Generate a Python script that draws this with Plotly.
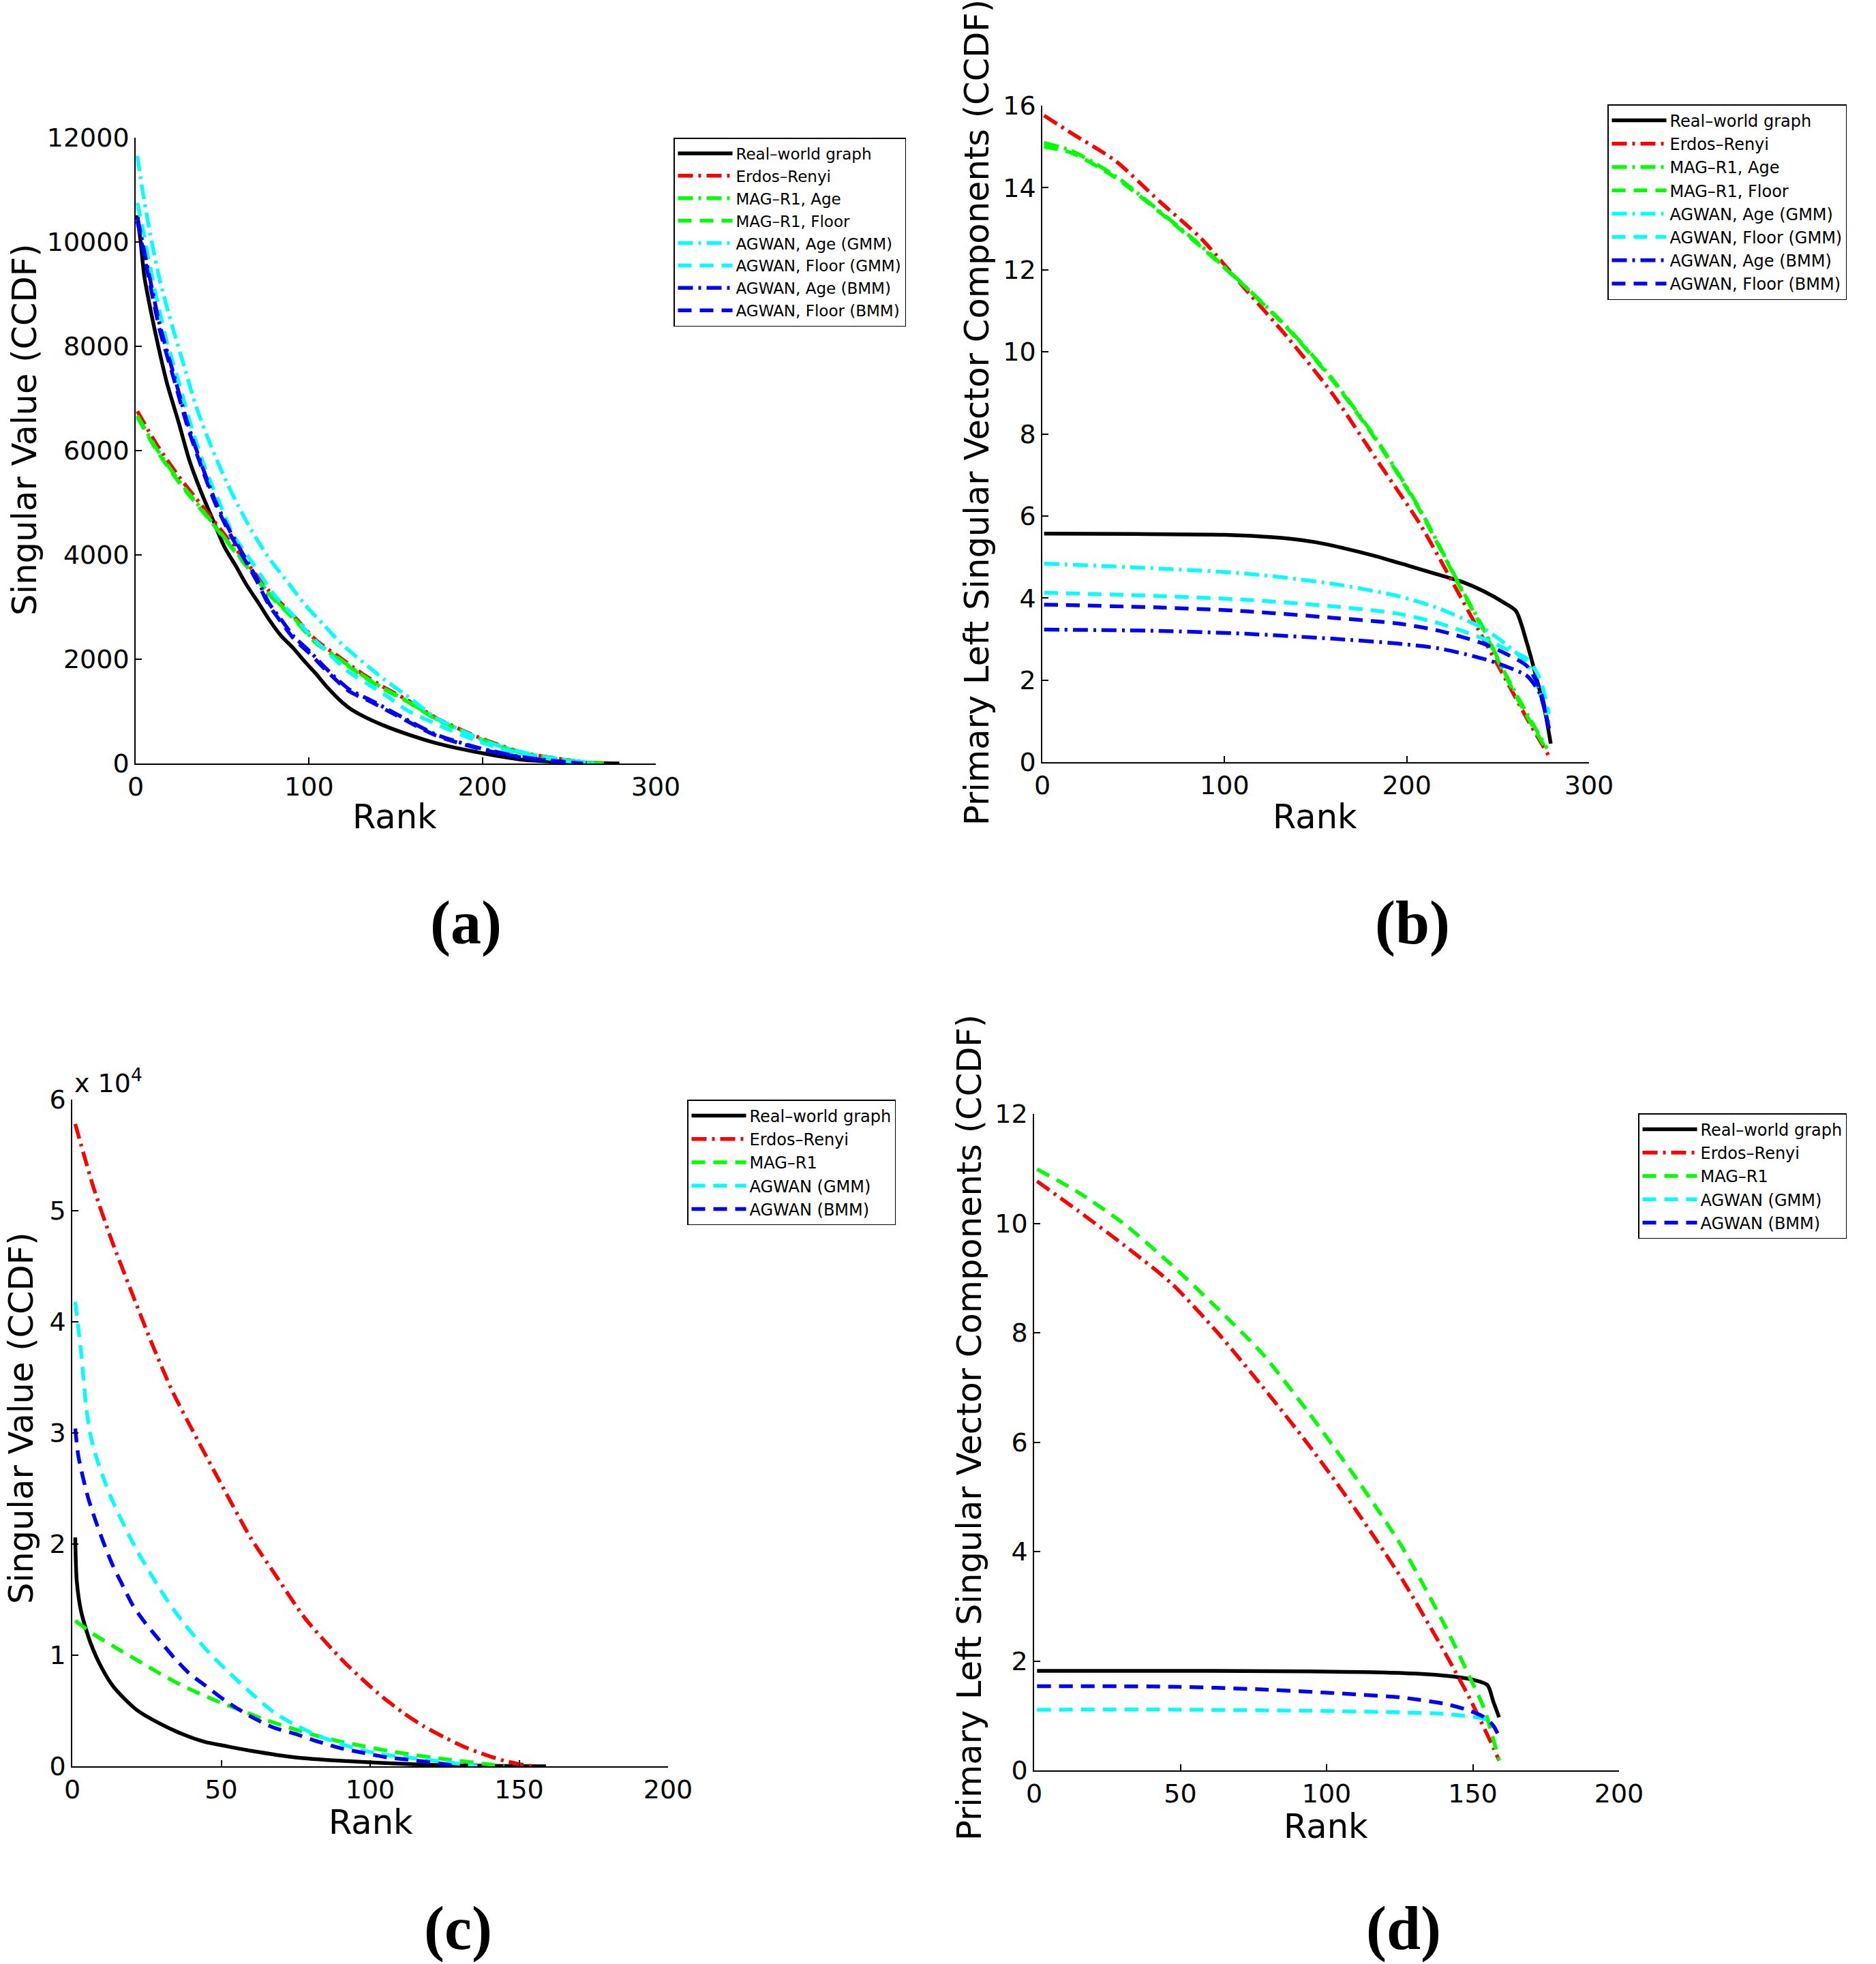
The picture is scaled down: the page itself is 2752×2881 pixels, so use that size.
import plotly.graph_objects as go

W, H = 2752, 2881

# ---------------- Panel (a): singular values, ranks 1..280 ----------------
a_real_x = [1, 3, 5, 9, 13, 18, 25, 31, 38, 45, 51, 58, 64, 71, 77, 84, 91, 97, 104, 110, 117, 123, 130, 143, 156, 173, 198, 223, 248, 265, 279]
a_real_y = [10513, 9965, 9338, 8633, 8006, 7301, 6518, 5813, 5186, 4638, 4168, 3776, 3423, 3071, 2758, 2444, 2209, 1974, 1720, 1480, 1240, 1070, 930, 730, 570, 394, 211, 73, 28, 10, 0]
a_er_x = [1, 12, 25, 38, 51, 64, 77, 91, 104, 117, 130, 143, 156, 173, 185, 198, 223, 248, 260, 270]
a_er_y = [6753, 6126, 5500, 4951, 4403, 3854, 3306, 2836, 2366, 2052, 1739, 1465, 1230, 880, 690, 500, 211, 73, 20, 0]
a_magage_y = [6670, 6040, 5420, 4880, 4340, 3800, 3260, 2800, 2330, 2020, 1710, 1440, 1210, 865, 675, 485, 200, 70, 18, 0]
a_magfloor_y = [6640, 6010, 5390, 4860, 4320, 3780, 3240, 2780, 2310, 2000, 1695, 1430, 1200, 855, 668, 478, 198, 68, 16, 0]
a_gmmage_x = [1, 4, 9, 14, 21, 28, 35, 43, 51, 59, 68, 77, 88, 98, 109, 119, 130, 143, 156, 173, 185, 198, 210, 235, 255, 265]
a_gmmage_y = [11649, 10983, 10043, 9260, 8398, 7615, 6831, 6126, 5500, 4951, 4403, 3933, 3463, 3032, 2640, 2288, 1974, 1622, 1308, 880, 680, 470, 330, 130, 40, 0]
a_gmmfloor_x = [1, 4, 8, 13, 18, 25, 33, 41, 49, 56, 64, 72, 80, 91, 101, 112, 122, 133, 146, 156, 173, 198, 223, 248, 262]
a_gmmfloor_y = [10748, 10278, 9573, 8790, 8085, 7301, 6361, 5578, 4951, 4403, 4011, 3619, 3228, 2836, 2444, 2092, 1778, 1543, 1269, 1034, 760, 420, 180, 50, 0]
a_bmm_x = [1, 7, 14, 22, 30, 38, 46, 54, 62, 70, 77, 84, 91, 101, 110, 123, 137, 150, 173, 198, 223, 245, 258]
a_bmmage_y = [10474, 9495, 8398, 7458, 6518, 5734, 5029, 4481, 4011, 3541, 3071, 2758, 2444, 2131, 1817, 1426, 1191, 956, 560, 300, 125, 40, 0]
a_bmmfloor_y = [10400, 9400, 8300, 7380, 6450, 5680, 4980, 4430, 3960, 3490, 3030, 2710, 2400, 2090, 1780, 1390, 1160, 930, 540, 285, 115, 35, 0]

# ---------------- Panel (b): primary left singular vector ----------------
b_real_x = [1, 50, 100, 120, 135, 150, 165, 183, 200, 215, 230, 242, 254, 260, 266, 272, 276, 279]
b_real_y = [5.57, 5.56, 5.54, 5.50, 5.45, 5.36, 5.22, 5.02, 4.80, 4.60, 4.40, 4.17, 3.87, 3.68, 2.89, 1.91, 1.2, 0.45]
b_er_x = [1, 16, 40, 64, 87, 111, 135, 159, 183, 207, 230, 242, 254, 266, 278]
b_er_y = [15.76, 15.33, 14.66, 13.68, 12.77, 11.55, 10.33, 8.99, 7.40, 5.82, 3.99, 3.01, 2.04, 1.06, 0.15]
b_mag_x = [1, 16, 40, 64, 87, 111, 135, 159, 183, 207, 230, 242, 254, 266, 277]
b_magage_y = [15.09, 14.9, 14.29, 13.44, 12.59, 11.61, 10.57, 9.35, 7.89, 6.18, 4.23, 3.26, 2.16, 1.18, 0.33]
b_magfloor_y = [15.0, 14.85, 14.25, 13.42, 12.56, 11.6, 10.55, 9.32, 7.86, 6.15, 4.2, 3.22, 2.12, 1.12, 0.28]
b_ag_x = [1, 64, 111, 159, 195, 218, 242, 254, 266, 273, 278]
b_gmmage_y = [4.84, 4.72, 4.6, 4.35, 4.05, 3.74, 3.26, 2.89, 2.40, 1.67, 0.94]
b_gmmfloor_y = [4.13, 4.05, 3.96, 3.80, 3.62, 3.38, 3.01, 2.77, 2.52, 2.04, 1.18]
b_bmmage_y = [3.23, 3.2, 3.13, 3.01, 2.89, 2.77, 2.52, 2.34, 2.10, 1.67, 0.82]
b_bmmfloor_y = [3.84, 3.77, 3.68, 3.52, 3.38, 3.2, 2.89, 2.65, 2.34, 1.79, 0.82]

# ---------------- Panel (c): singular values (x 10^4), ranks 1..159 ----------------
c_real_x = [1, 1.5, 3, 6, 10, 14, 21.5, 29, 37, 44.5, 52, 60, 75, 90, 113, 125, 145, 159]
c_real_y = [2.06, 1.67, 1.39, 1.12, 0.88, 0.71, 0.51, 0.39, 0.29, 0.22, 0.18, 0.14, 0.08, 0.05, 0.02, 0.01, 0.003, 0]
c_er_x = [1, 7, 13, 19.6, 26.5, 33.7, 42.2, 51, 59.8, 67.5, 78.2, 90.5, 97.5, 104.3, 111.2, 118, 125, 132, 139, 145, 151, 155]
c_er_y = [5.78, 5.22, 4.75, 4.29, 3.82, 3.37, 2.93, 2.49, 2.06, 1.75, 1.33, 0.96, 0.78, 0.62, 0.48, 0.36, 0.26, 0.17, 0.10, 0.05, 0.015, 0]
c_mag_x = [1, 7.7, 13.8, 21.5, 29.1, 34.5, 41.4, 48.3, 56, 63.6, 75, 82.8, 90.5, 98, 105.8, 112.7, 125, 139, 145]
c_mag_y = [1.31, 1.18, 1.08, 0.96, 0.84, 0.76, 0.67, 0.59, 0.51, 0.43, 0.33, 0.27, 0.22, 0.18, 0.14, 0.11, 0.065, 0.02, 0]
c_gmm_x = [1, 2, 3, 4.6, 6.1, 8.1, 10.4, 13, 16.1, 19.2, 22.2, 25.7, 29.1, 33, 36.8, 41.4, 46, 52, 60, 67.5, 75, 83, 90.5, 98, 106, 112, 125, 136]
c_gmm_y = [4.18, 3.95, 3.72, 3.25, 2.98, 2.78, 2.6, 2.42, 2.24, 2.07, 1.92, 1.76, 1.61, 1.45, 1.31, 1.16, 1.02, 0.86, 0.66, 0.49, 0.37, 0.27, 0.20, 0.14, 0.10, 0.08, 0.04, 0]
c_bmm_x = [1, 2, 3.5, 5.4, 7.7, 10.4, 13.4, 16.5, 20.3, 24.5, 29.1, 34.1, 39.1, 44.5, 51.4, 59.8, 67.5, 75, 82.8, 90.5, 98, 105.8, 112.7, 125, 129]
c_bmm_y = [3.04, 2.80, 2.61, 2.41, 2.22, 2.02, 1.82, 1.65, 1.45, 1.29, 1.14, 0.98, 0.84, 0.73, 0.59, 0.45, 0.35, 0.29, 0.22, 0.16, 0.12, 0.08, 0.06, 0.02, 0]

# ---------------- Panel (d): primary left singular vector ----------------
d_real_x = [1, 50, 94, 126, 141, 149, 155, 157, 159]
d_real_y = [1.82, 1.82, 1.81, 1.78, 1.73, 1.67, 1.56, 1.26, 0.97]
d_er_x = [1, 15, 31, 47, 62.6, 78, 94, 110, 126, 141, 149, 157, 159]
d_er_y = [10.77, 10.23, 9.59, 8.90, 8.01, 7.02, 5.94, 4.76, 3.48, 2.10, 1.31, 0.42, 0.18]
d_mag_x = [1, 15, 31, 47, 62.6, 78, 94, 110, 126, 141, 149, 154, 159]
d_mag_y = [10.99, 10.57, 9.98, 9.24, 8.45, 7.62, 6.53, 5.35, 4.07, 2.59, 1.70, 1.11, 0.18]
d_gmm_x = [1, 50, 94, 126, 141, 154, 157]
d_gmm_y = [1.11, 1.11, 1.09, 1.06, 1.03, 0.94, 0.85]
d_bmm_x = [1, 47, 78, 110, 126, 141, 149, 154, 157, 159]
d_bmm_y = [1.54, 1.53, 1.48, 1.39, 1.33, 1.21, 1.09, 0.97, 0.82, 0.62]

x_ticks_300 = [0, 100, 200, 300]
x_ticks_200 = [0, 50, 100, 150, 200]
a_yticks = [0, 2000, 4000, 6000, 8000, 10000, 12000]
b_yticks = [0, 2, 4, 6, 8, 10, 12, 14, 16]
c_yticks = [0, 1, 2, 3, 4, 5, 6]
d_yticks = [0, 2, 4, 6, 8, 10, 12]

DASHDOT = "22px,8px,4px,8px"
DASH = "20px,12px"
BLACK, RED, GREEN, CYAN, BLUE = "#000000", "#FF0000", "#00FF00", "#00FFFF", "#0000FF"
LW = 5.5

fig = go.Figure()


def add(xs, ys, name, color, dash, xa, ya, leg):
    fig.add_trace(go.Scatter(
        x=xs, y=ys, name=name, mode="lines",
        line=dict(color=color, dash=dash, width=LW, shape="spline", smoothing=0.7),
        xaxis=xa, yaxis=ya, legend=leg, hoverinfo="skip"))


# (a)
add(a_real_x, a_real_y, "Real\u2013world graph", BLACK, "solid", "x", "y", "legend")
add(a_er_x, a_er_y, "Erdos\u2013Renyi", RED, DASHDOT, "x", "y", "legend")
add(a_er_x, a_magage_y, "MAG\u2013R1, Age", GREEN, DASHDOT, "x", "y", "legend")
add(a_er_x, a_magfloor_y, "MAG\u2013R1, Floor", GREEN, DASH, "x", "y", "legend")
add(a_gmmage_x, a_gmmage_y, "AGWAN, Age (GMM)", CYAN, DASHDOT, "x", "y", "legend")
add(a_gmmfloor_x, a_gmmfloor_y, "AGWAN, Floor (GMM)", CYAN, DASH, "x", "y", "legend")
add(a_bmm_x, a_bmmage_y, "AGWAN, Age (BMM)", BLUE, DASHDOT, "x", "y", "legend")
add(a_bmm_x, a_bmmfloor_y, "AGWAN, Floor (BMM)", BLUE, DASH, "x", "y", "legend")

# (b)
add(b_real_x, b_real_y, "Real\u2013world graph", BLACK, "solid", "x2", "y2", "legend2")
add(b_er_x, b_er_y, "Erdos\u2013Renyi", RED, DASHDOT, "x2", "y2", "legend2")
add(b_mag_x, b_magage_y, "MAG\u2013R1, Age", GREEN, DASHDOT, "x2", "y2", "legend2")
add(b_mag_x, b_magfloor_y, "MAG\u2013R1, Floor", GREEN, DASH, "x2", "y2", "legend2")
add(b_ag_x, b_gmmage_y, "AGWAN, Age (GMM)", CYAN, DASHDOT, "x2", "y2", "legend2")
add(b_ag_x, b_gmmfloor_y, "AGWAN, Floor (GMM)", CYAN, DASH, "x2", "y2", "legend2")
add(b_ag_x, b_bmmage_y, "AGWAN, Age (BMM)", BLUE, DASHDOT, "x2", "y2", "legend2")
add(b_ag_x, b_bmmfloor_y, "AGWAN, Floor (BMM)", BLUE, DASH, "x2", "y2", "legend2")

# (c)
add(c_real_x, c_real_y, "Real\u2013world graph", BLACK, "solid", "x3", "y3", "legend3")
add(c_er_x, c_er_y, "Erdos\u2013Renyi", RED, DASHDOT, "x3", "y3", "legend3")
add(c_mag_x, c_mag_y, "MAG\u2013R1", GREEN, DASH, "x3", "y3", "legend3")
add(c_gmm_x, c_gmm_y, "AGWAN (GMM)", CYAN, DASH, "x3", "y3", "legend3")
add(c_bmm_x, c_bmm_y, "AGWAN (BMM)", BLUE, DASH, "x3", "y3", "legend3")

# (d)
add(d_real_x, d_real_y, "Real\u2013world graph", BLACK, "solid", "x4", "y4", "legend4")
add(d_er_x, d_er_y, "Erdos\u2013Renyi", RED, DASHDOT, "x4", "y4", "legend4")
add(d_mag_x, d_mag_y, "MAG\u2013R1", GREEN, DASH, "x4", "y4", "legend4")
add(d_gmm_x, d_gmm_y, "AGWAN (GMM)", CYAN, DASH, "x4", "y4", "legend4")
add(d_bmm_x, d_bmm_y, "AGWAN (BMM)", BLUE, DASH, "x4", "y4", "legend4")

FONT = "DejaVu Sans"
TICKF = dict(family=FONT, size=38, color="black")


def px_x(p):
    return p / W


def px_y(p):
    return 1 - p / H


def axis(dom, rng, tickvals, anchor):
    return dict(domain=dom, range=rng, tickvals=tickvals, ticktext=[str(v) for v in tickvals],
                ticks="inside", ticklen=9,
                tickwidth=1.5, tickcolor="black", showline=True, linecolor="black",
                linewidth=1.5, mirror=False, showgrid=False, zeroline=False,
                tickfont=TICKF, anchor=anchor, fixedrange=True, automargin=False)


layout = dict(
    width=W, height=H, margin=dict(l=0, r=0, t=0, b=0, pad=0, autoexpand=False),
    paper_bgcolor="white", plot_bgcolor="white",
    xaxis=axis([px_x(199), px_x(962)], [0, 300], x_ticks_300, "y"),
    yaxis=axis([px_y(1120), px_y(202)], [0, 12000], a_yticks, "x"),
    xaxis2=axis([px_x(1529), px_x(2331)], [0, 300], x_ticks_300, "y2"),
    yaxis2=axis([px_y(1118), px_y(155)], [0, 16], b_yticks, "x2"),
    xaxis3=axis([px_x(106), px_x(980)], [0, 200], x_ticks_200, "y3"),
    yaxis3=axis([px_y(2591), px_y(1613)], [0, 6], c_yticks, "x3"),
    xaxis4=axis([px_x(1517), px_x(2375)], [0, 200], x_ticks_200, "y4"),
    yaxis4=axis([px_y(2597), px_y(1634)], [0, 12], d_yticks, "x4"),
)


def legend(x, y, size, ew):
    return dict(x=px_x(x), y=px_y(y), xanchor="left", yanchor="top", xref="paper", yref="paper",
                bgcolor="white", bordercolor="black", borderwidth=1.5,
                font=dict(family=FONT, size=size, color="black"), itemwidth=80,
                entrywidth=ew, entrywidthmode="pixels",
                tracegroupgap=0, traceorder="normal")


layout["legend"] = legend(988, 202, 23, 265)
layout["legend2"] = legend(2358, 153, 24, 280)
layout["legend3"] = legend(1008, 1613, 24, 228)
layout["legend4"] = legend(2403, 1633, 24, 222)
layout["showlegend"] = True

fig.update_layout(**layout)

ann = []
TITLEF = dict(family=FONT, size=49.5, color="black")


def text(x, y, s, font, angle=0, xanchor="center", yanchor="middle"):
    ann.append(dict(x=px_x(x), y=px_y(y), xref="paper", yref="paper", text=s, showarrow=False,
                    font=font, textangle=angle, xanchor=xanchor, yanchor=yanchor))


text(579, 1198, "Rank", TITLEF)
text(1929, 1198, "Rank", TITLEF)
text(544, 2673, "Rank", TITLEF)
text(1945, 2679, "Rank", TITLEF)
text(36, 630, "Singular Value (CCDF)", TITLEF, -90)
text(31, 2080, "Singular Value (CCDF)", TITLEF, -90)
text(1433, 605, "Primary Left Singular Vector Components (CCDF)", TITLEF, -90)
text(1422, 2094, "Primary Left Singular Vector Components (CCDF)", TITLEF, -90)
text(107, 1586, "x 10<sup>4</sup>", dict(family=FONT, size=38, color="black"), xanchor="left")

PANELF = dict(family="Liberation Serif", size=90, color="black")
text(683, 1354, "<b>(a)</b>", PANELF)
text(2072, 1354, "<b>(b)</b>", PANELF)
text(672, 2829, "<b>(c)</b>", PANELF)
text(2059, 2829, "<b>(d)</b>", PANELF)

fig.update_layout(annotations=ann)
fig.write_html("out.html")
